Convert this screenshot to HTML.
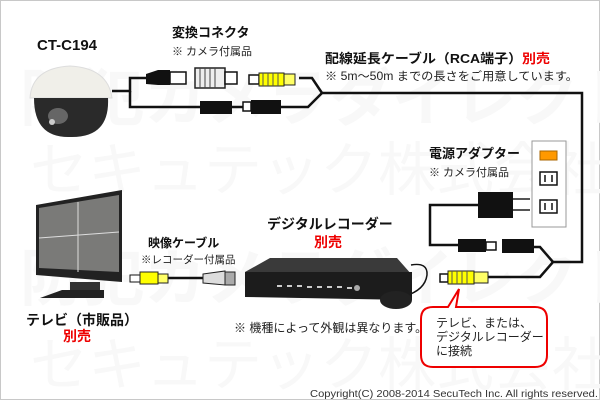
<!DOCTYPE html>
<html><head><meta charset="utf-8"><style>
html,body{margin:0;padding:0;background:#fff}
svg{display:block}
text{font-family:"Liberation Sans","Noto Sans CJK JP",sans-serif;}
</style></head><body>
<svg width="600" height="400" viewBox="0 0 600 400" xmlns="http://www.w3.org/2000/svg">
<rect x="0.5" y="0.5" width="599" height="399" fill="#fff" stroke="#c8c8c8"/>
<!-- watermark -->
<text x="20" y="120" font-size="62" fill="#f8f8f8" font-weight="bold">防犯カメラダイレクト</text>
<text x="30" y="190" font-size="58" fill="#f8f8f8">セキュテック株式会社</text>
<text x="20" y="300" font-size="62" fill="#f8f8f8" font-weight="bold">防犯カメラダイレクト</text>
<text x="30" y="385" font-size="58" fill="#f8f8f8">セキュテック株式会社</text>

<!-- camera -->
<text x="37" y="50" font-size="15" font-weight="bold" fill="#111" textLength="60" lengthAdjust="spacingAndGlyphs">CT-C194</text>
<path d="M30 98 Q32 68 70 66 Q108 68 112 98 Z" fill="#f0efe9" stroke="#ddd"/>
<path d="M34 98 L108 98 Q110 138 70 137 Q34 138 34 98Z" fill="#2a2a2a"/>
<ellipse cx="58" cy="116" rx="10" ry="8" fill="#666"/>
<circle cx="52" cy="122" r="3" fill="#ccc"/>

<!-- cables top -->
<g fill="none" stroke="#111" stroke-width="2.5">
<path d="M112 91 H130 V78 H146"/>
<path d="M130 91 V107 H200"/>
<path d="M232 107 H243"/>
<path d="M281 107 H308 L322 93 L312 78 H299"/>
<path d="M322 93 H582 V262 H553 L540 277 H488"/>
<path d="M553 262 L540 247 H534"/>
<path d="M478 205 H430 V245 H458"/>
<path d="M168 278 H203"/>
<path d="M411 265 Q428 262 427 275 Q425 290 405 296" stroke-width="1.5"/>
</g>
<!-- top connectors -->
<path d="M146 74 L158 70 H170 V85 H158 L146 84Z" fill="#111"/>
<rect x="170" y="72" width="16" height="12" fill="#fff" stroke="#111" stroke-width="1.5"/>
<rect x="195" y="68" width="30" height="20" fill="#eee" stroke="#222" stroke-width="1.5"/>
<path d="M200 68V88M205 68V88M210 68V88M215 68V88" stroke="#444"/>
<rect x="225" y="72" width="12" height="12" fill="#fff" stroke="#111" stroke-width="1.5"/>
<rect x="249" y="75" width="10" height="9" fill="#fff" stroke="#111" stroke-width="1.5"/>
<rect x="259" y="73" width="25" height="13" fill="#ff0" stroke="#222"/>
<path d="M263 73V86M268 73V86M273 73V86M278 73V86" stroke="#555"/>
<rect x="284" y="74" width="11" height="11" fill="#ff6" stroke="#222"/>
<rect x="200" y="101" width="32" height="13" fill="#111"/>
<rect x="243" y="102" width="8" height="9" fill="#fff" stroke="#111" stroke-width="1.5"/>
<rect x="251" y="100" width="30" height="14" fill="#111"/>

<text x="172" y="37" font-size="13" font-weight="bold" fill="#111">変換コネクタ</text>
<text x="172" y="55" font-size="11" fill="#222">※ カメラ付属品</text>
<text x="325" y="63" font-size="13" font-weight="bold" fill="#111" textLength="225" lengthAdjust="spacingAndGlyphs">配線延長ケーブル（RCA端子）<tspan fill="#e00">別売</tspan></text>
<text x="325" y="80" font-size="11.5" fill="#222" textLength="253" lengthAdjust="spacingAndGlyphs">※ 5m〜50m までの長さをご用意しています。</text>

<!-- power -->
<text x="429" y="158" font-size="13" font-weight="bold" fill="#111">電源アダプター</text>
<text x="429" y="176" font-size="11" fill="#222">※ カメラ付属品</text>
<rect x="532" y="141" width="34" height="86" fill="#fff" stroke="#999"/>
<rect x="540" y="151" width="17" height="9" fill="#f90" stroke="#a60"/>
<rect x="540" y="172" width="17" height="13" fill="#fff" stroke="#111" stroke-width="1.5"/>
<path d="M545 175V182M552 175V182" stroke="#111" stroke-width="1.5"/>
<rect x="540" y="200" width="17" height="13" fill="#fff" stroke="#111" stroke-width="1.5"/>
<path d="M545 203V210M552 203V210" stroke="#111" stroke-width="1.5"/>
<rect x="478" y="192" width="35" height="26" fill="#111"/>
<path d="M513 199H530M513 210H530" stroke="#555" stroke-width="2"/>
<rect x="458" y="239" width="28" height="13" fill="#111"/>
<rect x="486" y="242" width="10" height="8" fill="#fff" stroke="#111" stroke-width="1.5"/>
<rect x="502" y="239" width="32" height="14" fill="#111"/>
<rect x="440" y="274" width="8" height="8" fill="#fff" stroke="#111" stroke-width="1.5"/>
<rect x="448" y="271" width="26" height="13" fill="#ff0" stroke="#222"/>
<path d="M452 271V284M457 271V284M462 271V284M467 271V284" stroke="#555"/>
<rect x="474" y="272" width="14" height="11" fill="#ff6" stroke="#222"/>

<!-- TV -->
<path d="M36 205 L122 190 V282 L36 275Z" fill="#222"/>
<path d="M39 208 L119 195 V272 L39 268Z" fill="#7a7a78"/>
<path d="M39 238 L119 232 M78 202 V272" stroke="#ddd" stroke-width="1"/>
<rect x="70" y="282" width="30" height="10" fill="#333"/>
<path d="M40 298 L62 290 H104 L104 298Z" fill="#222"/>
<text x="26" y="325" font-size="14" font-weight="bold" fill="#111">テレビ（市販品）</text>
<text x="63" y="341" font-size="14" font-weight="bold" fill="#e00">別売</text>

<!-- video cable -->
<rect x="130" y="275" width="10" height="7" fill="#fff" stroke="#111"/>
<rect x="140" y="272" width="18" height="12" fill="#ff0" stroke="#222"/>
<rect x="158" y="274" width="10" height="9" fill="#ff6" stroke="#222"/>
<path d="M203 274 L225 271 V285 L203 283Z" fill="#ddd" stroke="#222"/>
<rect x="225" y="272" width="10" height="13" fill="#aaa" stroke="#222"/>
<text x="148" y="247" font-size="12" font-weight="bold" fill="#111">映像ケーブル</text>
<text x="141" y="263" font-size="10.5" fill="#222">※レコーダー付属品</text>

<!-- DVR -->
<path d="M245 272 L270 258 H397 L412 275 Z" fill="#3a3a3a"/>
<path d="M245 272 H412 V300 L245 297Z" fill="#1c1c1c"/>
<g fill="#ccc"><rect x="277" y="285" width="5" height="2"/><rect x="287" y="285" width="5" height="2"/><rect x="297" y="285" width="5" height="2"/><rect x="307" y="286" width="5" height="2"/><rect x="317" y="286" width="5" height="2"/><rect x="327" y="286" width="5" height="2"/><rect x="337" y="286" width="5" height="2"/><rect x="347" y="287" width="5" height="2"/></g>
<circle cx="357" cy="288" r="3" fill="#aaa"/>
<ellipse cx="396" cy="300" rx="16" ry="9" fill="#222"/>
<text x="267" y="229" font-size="14" font-weight="bold" fill="#111">デジタルレコーダー</text>
<text x="314" y="247" font-size="14" font-weight="bold" fill="#e00">別売</text>
<text x="234" y="332" font-size="12" fill="#222">※ 機種によって外観は異なります。</text>

<!-- callout -->
<path d="M433 307 H448 L459 289 L456 307 H535 Q547 307 547 319 V355 Q547 367 535 367 H433 Q421 367 421 355 V319 Q421 307 433 307Z" fill="#fff" stroke="#e00" stroke-width="2"/>
<text x="436" y="327" font-size="12" fill="#222">テレビ、または、</text>
<text x="436" y="341" font-size="12" fill="#222">デジタルレコーダー</text>
<text x="436" y="355" font-size="12" fill="#222">に接続</text>

<text x="310" y="397" font-size="10.5" fill="#333" textLength="288" lengthAdjust="spacingAndGlyphs">Copyright(C) 2008-2014 SecuTech Inc. All rights reserved.</text>
</svg>
</body></html>
